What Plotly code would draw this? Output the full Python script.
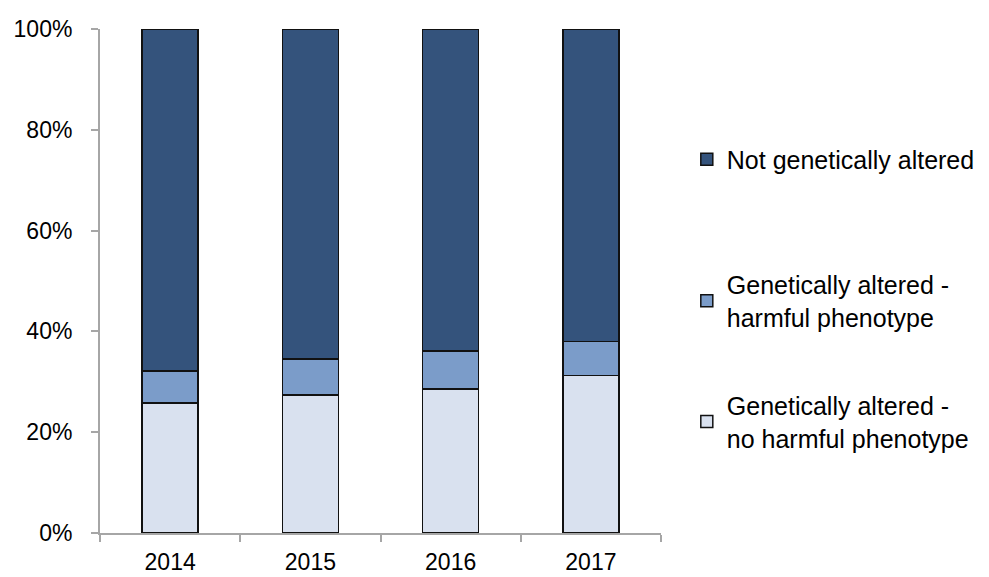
import plotly.graph_objects as go

years = ["2014", "2015", "2016", "2017"]
no_harm = [25.8, 27.4, 28.6, 31.3]
harmful = [6.3, 7.1, 7.5, 6.7]
not_altered = [67.9, 65.5, 63.9, 62.0]

names = ["Genetically altered -<br>no harmful phenotype",
         "Genetically altered -<br>harmful phenotype",
         "Not genetically altered"]
colors = ["#d9e1ef", "#7b9cc9", "#34537c"]
series = [no_harm, harmful, not_altered]
legends = ["legend3", "legend2", "legend"]

fig = go.Figure()
for name, col, vals, lg in zip(names, colors, series, legends):
    fig.add_trace(go.Bar(
        x=years, y=vals, name=name, marker=dict(color=col, line=dict(color="#111111", width=1.5)),
        width=0.4, legend=lg,
    ))

FONT = dict(family="Liberation Sans, Arial, sans-serif", size=23, color="#000000")
LFONT = dict(family="Liberation Sans, Arial, sans-serif", size=25, color="#000000")
leg_common = dict(x=1.046, xanchor="left", yanchor="middle", font=LFONT,
                  bgcolor="rgba(0,0,0,0)", borderwidth=0)

fig.update_layout(
    barmode="stack",
    width=989, height=577,
    margin=dict(l=92, r=336, t=21, b=52, autoexpand=False),
    paper_bgcolor="white", plot_bgcolor="white",
    font=FONT,
    showlegend=True,
    legend=dict(y=0.741, **leg_common),
    legend2=dict(y=0.461, **leg_common),
    legend3=dict(y=0.221, **leg_common),
    yaxis=dict(range=[0, 100], tickvals=[0, 20, 40, 60, 80, 100],
               ticktext=["0%", "20%", "40%", "60%", "80%", "100%"], automargin=False,
               showgrid=False, zeroline=False, showline=True, linecolor="#a6a6a6", linewidth=2,
               ticks="outside", ticklen=7, tickcolor="#a6a6a6", tickwidth=2, ticklabelstandoff=14),
    xaxis=dict(showgrid=False, showline=True, linecolor="#a6a6a6", linewidth=2, automargin=False,
               ticks="outside", ticklen=7, tickcolor="#a6a6a6", tickwidth=2,
               tickson="boundaries", ticklabelstandoff=7),
)
fig.write_html("out.html")
